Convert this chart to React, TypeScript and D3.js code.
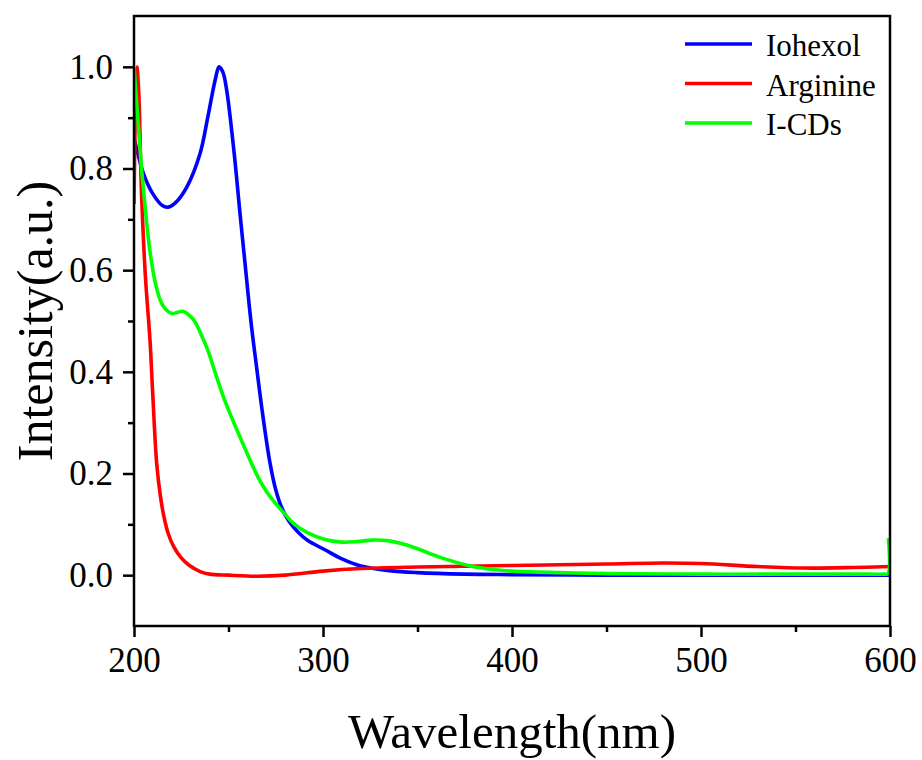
import React, { useEffect, useRef } from 'react';
import * as d3 from 'd3';

// Iohexol (blue)
const iohexolWl = [200, 202, 205, 210, 215, 218, 222, 228, 235, 239, 243, 245, 247, 249, 253, 256, 258.7, 262, 265, 268.5, 272, 275, 278, 282, 287, 292, 301, 310, 320, 335, 350, 375, 400, 450, 500, 550, 600];
const iohexolVal = [0.86, 0.83, 0.79, 0.75, 0.727, 0.724, 0.733, 0.764, 0.83, 0.9, 0.975, 1.0, 0.99, 0.955, 0.83, 0.715, 0.615, 0.495, 0.405, 0.305, 0.22, 0.168, 0.134, 0.106, 0.084, 0.068, 0.05, 0.032, 0.018, 0.009, 0.005, 0.002, 0.001, 0.0, 0.0, 0.0, 0.0];

// Arginine (red)
const arginineWl = [200, 201.5, 202.5, 204, 206, 208.5, 210, 212, 214, 216, 218, 221, 225, 229, 235, 240, 250, 265, 280, 300, 320, 350, 400, 450, 480, 500, 530, 555, 580, 600];
const arginineVal = [0.73, 1.0, 0.95, 0.75, 0.59, 0.46, 0.35, 0.22, 0.155, 0.112, 0.083, 0.056, 0.034, 0.02, 0.007, 0.002, 0.0, -0.002, 0.0, 0.008, 0.013, 0.016, 0.019, 0.022, 0.024, 0.023, 0.017, 0.014, 0.015, 0.017];

// I-CDs (green)
const icdsWl = [200, 202, 204, 206, 208, 211, 214, 217, 220, 223, 226, 229, 232, 235, 239, 243, 248, 257, 265.6, 270, 274, 278, 285, 292, 301, 310, 318, 326, 334, 342, 350, 362, 378, 390, 400, 425, 450, 500, 550, 580, 590, 597, 598.9, 599.2];
const icdsVal = [1.0, 0.9, 0.8, 0.72, 0.65, 0.58, 0.54, 0.522, 0.515, 0.517, 0.519, 0.512, 0.5, 0.478, 0.443, 0.398, 0.344, 0.264, 0.193, 0.165, 0.145, 0.128, 0.1, 0.083, 0.07, 0.065, 0.066, 0.069, 0.068, 0.062, 0.052, 0.035, 0.018, 0.011, 0.008, 0.005, 0.003, 0.002, 0.002, 0.002, 0.002, 0.002, 0.003, 0.073];

const seriesNames = ['Iohexol', 'Arginine', 'I-CDs'];
const seriesColors = ['#0000ff', '#ff0000', '#00ff00'];

const xMajor = [200, 300, 400, 500, 600];
const xMinor = [250, 350, 450, 550];
const yMajor = [0.0, 0.2, 0.4, 0.6, 0.8, 1.0];
const yMinor = [0.1, 0.3, 0.5, 0.7, 0.9];

const App = () => {
  const ref = useRef<SVGSVGElement | null>(null);

  useEffect(() => {
    const svg = d3.select(ref.current);
    svg.selectAll('*').remove();

    const left = 134, right = 890, top = 16, bottom = 626;
    const font = '"Liberation Serif", "Times New Roman", serif';

    const x = d3.scaleLinear().domain([200, 600]).range([left, right]);
    const y = d3.scaleLinear().domain([-0.1, 1.1]).range([bottom, top]);

    const series = [
      { wl: iohexolWl, val: iohexolVal },
      { wl: arginineWl, val: arginineVal },
      { wl: icdsWl, val: icdsVal },
    ];

    const line = d3.line<[number, number]>()
      .x(d => x(d[0]))
      .y(d => y(d[1]))
      .curve(d3.curveCatmullRom.alpha(0.5));

    svg.append('clipPath').attr('id', 'plotclip')
      .append('rect')
      .attr('x', left).attr('y', top)
      .attr('width', right - left).attr('height', bottom - top);

    const lines = svg.append('g').attr('clip-path', 'url(#plotclip)');
    series.forEach((s, i) => {
      const pts = s.wl.map((w, j) => [w, s.val[j]] as [number, number]);
      lines.append('path')
        .datum(pts)
        .attr('fill', 'none')
        .attr('stroke', seriesColors[i])
        .attr('stroke-width', 3.6)
        .attr('stroke-linejoin', 'round')
        .attr('d', line);
    });

    // frame
    svg.append('rect')
      .attr('x', left).attr('y', top)
      .attr('width', right - left).attr('height', bottom - top)
      .attr('fill', 'none')
      .attr('stroke', '#000')
      .attr('stroke-width', 2.5);

    // x axis ticks
    const gx = svg.append('g').attr('transform', `translate(0,${bottom})`);
    gx.call(d3.axisBottom(x).tickValues(xMajor).tickSize(11).tickPadding(10).tickFormat(d3.format('d')));
    gx.append('g').call(d3.axisBottom(x).tickValues(xMinor).tickSize(6).tickFormat(() => ''));
    gx.selectAll('.domain').remove();
    gx.selectAll('line').attr('stroke', '#000').attr('stroke-width', 2.5);
    gx.selectAll('text').attr('font-family', font).attr('font-size', 35).attr('fill', '#000');

    // y axis ticks
    const gy = svg.append('g').attr('transform', `translate(${left},0)`);
    gy.call(d3.axisLeft(y).tickValues(yMajor).tickSize(11).tickPadding(10).tickFormat(d3.format('.1f')));
    gy.append('g').call(d3.axisLeft(y).tickValues(yMinor).tickSize(6).tickFormat(() => ''));
    gy.selectAll('.domain').remove();
    gy.selectAll('line').attr('stroke', '#000').attr('stroke-width', 2.5);
    gy.selectAll('text').attr('font-family', font).attr('font-size', 35).attr('fill', '#000');

    // axis titles
    svg.append('text')
      .attr('x', (left + right) / 2)
      .attr('y', 748)
      .attr('text-anchor', 'middle')
      .attr('font-family', font)
      .attr('font-size', 49)
      .text('Wavelength(nm)');

    svg.append('text')
      .attr('transform', `translate(52,${(top + bottom) / 2}) rotate(-90)`)
      .attr('text-anchor', 'middle')
      .attr('font-family', font)
      .attr('font-size', 50)
      .text('Intensity(a.u.)');

    // legend
    const lg = svg.append('g');
    seriesNames.forEach((name, i) => {
      const ly = 44 + i * 39.5;
      lg.append('line')
        .attr('x1', 685).attr('x2', 752)
        .attr('y1', ly).attr('y2', ly)
        .attr('stroke', seriesColors[i])
        .attr('stroke-width', 3.6);
      lg.append('text')
        .attr('x', 766)
        .attr('y', ly + 12)
        .attr('font-family', font)
        .attr('font-size', 31)
        .text(name);
    });

    return () => {
      svg.selectAll('*').remove();
    };
  }, []);

  return (
    <svg
      ref={ref}
      width={922}
      height={760}
      style={{ position: 'absolute', left: 0, top: 0, background: '#fff' }}
    />
  );
};

export default App;
